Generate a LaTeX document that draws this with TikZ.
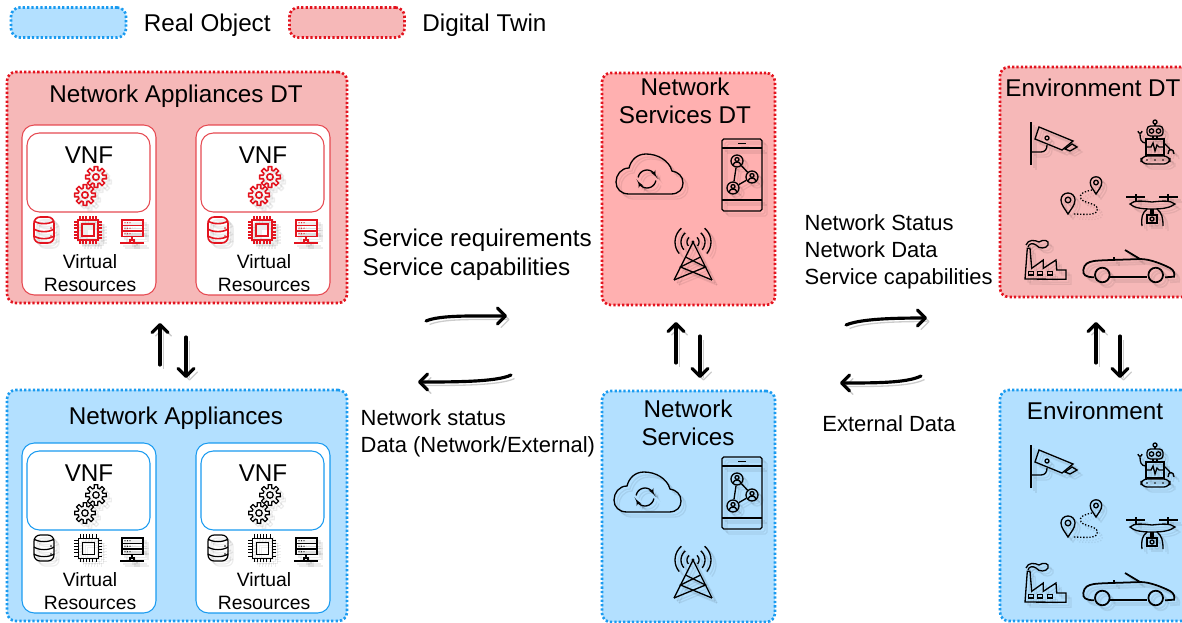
\documentclass[tikz,border=0pt]{standalone}
\usepackage{fontspec}
\setmainfont{Liberation Sans}
\usepackage{xcolor}
\usepackage{tikz}
\usetikzlibrary{arrows.meta,positioning,calc}

\definecolor{dtred}{HTML}{E3141F}
\definecolor{dtline}{HTML}{E64A52}
\definecolor{dtfill}{HTML}{F6B8B8}
\definecolor{dtfillb}{HTML}{FFB0B0}
\definecolor{realblue}{HTML}{1A9BF0}
\definecolor{realfill}{HTML}{B3E0FF}

\tikzset{
	dtbox/.style = {draw=dtred,fill=dtfill,line width=1.5pt,dash pattern=on 1.3pt off 1.2pt,rounded corners=5pt},
	realbox/.style = {draw=realblue,fill=realfill,line width=1.5pt,dash pattern=on 1.3pt off 1.2pt,rounded corners=5pt},
	modbox/.style = {fill=white,line width=.6pt,rounded corners=7pt},
	bigtext/.style = {font=\fontsize{13.8}{16}\selectfont,align=center,inner sep=0pt},
	midtext/.style = {font=\fontsize{12.5}{15.2}\selectfont,align=left,inner sep=0pt},
	smalltext/.style = {font=\fontsize{11}{13.1}\selectfont,align=center,inner sep=0pt},
	flowarrow/.style = {line width=1.8pt,line cap=round,-{Straight Barb[round,length=4.5pt,width=9pt]},
		preaction={draw,black,opacity=.2,transform canvas={shift={(2pt,-2pt)}}}},
	pics/gearwheel/.style = {code={
		\draw[line join=round] (-14:7) \foreach \a in {0,45,...,315} {-- (\a-14:7) -- (\a-10:10.5) -- (\a+10:10.5) -- (\a+14:7)} -- cycle;
		\draw (0,0) circle (3.2);
	}},
	pics/gears/.style = {code={
		\pic at (6,-9) {gearwheel};
		\pic at (-5,9) {gearwheel};
	}},
	pics/dbicon/.style = {code={
		\draw[rounded corners=3.5] (-10,-13) rectangle (10,13);
		\draw (-10,-9) .. controls (-5,-5.5) and (5,-5.5) .. (10,-9);
		\draw (-10,-1) .. controls (-5,2.5) and (5,2.5) .. (10,-1);
		\draw (-10,6) .. controls (-5,9.5) and (5,9.5) .. (10,6);
		\foreach \y in {-2,6} {\fill (7,\y) circle (.8);}
	}},
	pics/chipicon/.style = {code={
		\draw (-10,-10) rectangle (10,10);
		\draw (-6,-6) rectangle (6,6);
		\foreach \t in {-8,-4.8,-1.6,1.6,4.8,8} {
			\draw (\t,-14) -- (\t,-10);
			\draw (\t,10) -- (\t,14);
			\draw (-14,\t) -- (-10,\t);
			\draw (10,\t) -- (14,\t);
		}
	}},
	pics/rackicon/.style = {code={
		\foreach \y in {-10,-4.5,1} {
			\draw (-10,\y) rectangle (11,\y+5.5);
			\foreach \d in {-7,-4.5,-2} {\fill (\d,\y+2.7) circle (.7);}
		}
		\draw (0,6.5) -- (0,10);
		\draw (-2,10) rectangle (2,13);
		\draw (-12,13) -- (12,13);
	}},
	pics/cloudicon/.style = {code={
		\draw (-20,20) -- (22,20) .. controls (30,20) and (34,15) .. (34,9) .. controls (34,2) and (29,-2) .. (23,-3)
			.. controls (20,-14) and (8,-20) .. (-3,-20) .. controls (-12,-20) and (-18,-14) .. (-20,-6)
			.. controls (-28,-6) and (-33,1) .. (-33,8) .. controls (-33,15) and (-28,20) .. (-20,20) -- cycle;
		\draw[-{Stealth[length=3pt,width=3pt]}] plot[domain=190:340,samples=12] ({-2+9*cos(\x)},{5+9*sin(\x)});
		\draw[-{Stealth[length=3pt,width=3pt]}] plot[domain=10:160,samples=12] ({-2+9*cos(\x)},{5+9*sin(\x)});
	}},
	personnode/.style = {circle,draw,inner sep=0pt,minimum size=.24cm},
	pics/phoneicon/.style = {code={
		\draw[rounded corners=1] (-20,-36) rectangle (20,36);
		\draw (-20,-27) -- (20,-27);
		\draw (-20,25) -- (20,25);
		\draw (-4,-31.5) -- (4,-31.5);
		\node[personnode] (persona) at (-5,-14) {};
		\node[personnode] (personb) at (10,2) {};
		\node[personnode] (personc) at (-9,13) {};
		\draw (persona) -- (personb);
		\draw (personb) -- (personc);
		\draw (personc) -- (persona);
		\foreach \px/\py in {-5/-14,10/2,-9/13} {
			\draw (\px,\py-1.5) circle (2);
			\draw (\px-4,\py+4) .. controls (\px-3,\py) and (\px+3,\py) .. (\px+4,\py+4);
		}
	}},
	pics/towericon/.style = {code={
		\fill (0,0) circle (1.6);
		\draw (-19,38) -- (0,0) -- (19,38);
		\draw (-7.5,15) -- (12.5,25) -- (-19,38);
		\draw (7.5,15) -- (-12.5,25) -- (19,38);
		\foreach \r in {6,12,18} {
			\draw plot[domain=-50:40,samples=10] ({\r*cos(\x)},{\r*sin(\x)});
			\draw plot[domain=140:230,samples=10] ({\r*cos(\x)},{\r*sin(\x)});
		}
	}},
	pics/cameraicon/.style = {code={
		\draw (-24,-18) -- (-24,25);
		\draw (-16,-13) -- (18,1) -- (7,10) -- (-20,-1) -- cycle;
		\draw (10,9) -- (17,4) -- (22,7) -- (15,11) -- cycle;
		\draw (-8,-2) circle (2);
		\draw (-24,12) -- (-14,12) .. controls (-10,12) and (-8,9) .. (-8,5);
	}},
	pics/roboticon/.style = {code={
		\draw[rounded corners=2] (-8,-16) rectangle (8,-6);
		\draw (0,-20) circle (2);
		\draw (0,-18) -- (0,-16);
		\draw (-3.5,-11) circle (2.2);
		\draw (3.5,-11) circle (2.2);
		\draw (-2,-6) -- (-2,-3);
		\draw (2,-6) -- (2,-3);
		\draw (-9,-3) rectangle (9,13);
		\draw (-9,5) -- (-4,5) -- (-2,1) -- (0,9) -- (2,3) -- (4,5) -- (9,5);
		\draw[rounded corners=3.5] (-14,14) rectangle (15,22);
		\foreach \d in {-8,0,8} {\fill (\d,18) circle (.8);}
		\draw (-9,1) .. controls (-14,1) and (-15,-3) .. (-15,-8);
		\draw (-17,-11) .. controls (-17,-8) and (-13,-8) .. (-13,-11);
		\draw (9,1) -- (14,6) -- (15,8);
		\draw (13,12) .. controls (13,6) and (19,6) .. (19,12);
	}},
	pics/pinicon/.style = {code={
		\draw (0,0) .. controls (-3,-5) and (-7,-9) .. (-7,-14) .. controls (-7,-18) and (-4,-21) .. (0,-21)
			.. controls (4,-21) and (7,-18) .. (7,-14) .. controls (7,-9) and (3,-5) .. (0,0) -- cycle;
		\draw (0,-14) circle (2.8);
	}},
	pics/routeicon/.style = {code={
		\pic[scale=.82] at (14,-4) {pinicon};
		\pic at (-14,16) {pinicon};
		\draw[densely dotted] (10,-8) .. controls (3,-7) and (-4,-4) .. (-1,1) .. controls (3,6) and (18,5) .. (15,13) .. controls (13,18) and (0,16) .. (-9,16);
	}},
	pics/droneicon/.style = {code={
		\draw (-26,-7) -- (-7,-7);
		\draw (7,-7) -- (26,-7);
		\draw (-16,-10) -- (-16,-3);
		\draw (16,-10) -- (16,-3);
		\draw (-22,0) .. controls (-18,-4) and (-10,-3) .. (0,-2) .. controls (10,-3) and (18,-4) .. (23,0) .. controls (18,4) and (10,5) .. (0,5) .. controls (-10,5) and (-18,4) .. (-22,0) -- cycle;
		\draw (-5,11) rectangle (5,19);
		\draw (0,15) circle (2);
		\draw (-5,5) .. controls (-10,9) and (-11,14) .. (-10,22);
		\draw (5,5) .. controls (10,9) and (11,14) .. (11,22);
		\draw (-1,5) -- (-1,11);
		\draw (1,5) -- (1,11);
	}},
	pics/factoryicon/.style = {code={
		\draw (-20,17) -- (-17.7,-13.7) -- (-15,-13.7) -- (-13.3,6.3) -- (-1.7,-2) -- (-1.7,6.3) -- (11,-2) -- (11.7,8) -- (21,8) -- (21,17.3) -- cycle;
		\foreach \w in {-14,-5,5} {\draw (\w-2.5,9.5) rectangle (\w+2.5,13);}
		\draw (-19,-17) .. controls (-17,-23) and (-10,-22) .. (-6,-20) .. controls (-2,-23) and (5,-22) .. (3,-17) .. controls (1,-13) and (-6,-13) .. (-9,-17) .. controls (-12,-19) and (-16,-19) .. (-17,-15);
	}},
	pics/caricon/.style = {code={
		\draw[line width=1pt] (-20,15.3) -- (16.7,15.3);
		\draw[line width=1pt] (-36,15.3) .. controls (-45,15) and (-47,13) .. (-46.7,8) .. controls (-46,2) and (-42,0) .. (-36,-1) .. controls (-28,-2) and (-14,-2) .. (10,-3) .. controls (20,-3) and (32,2) .. (40,6) .. controls (44,8) and (45,12) .. (44,14.7) -- (35,15.3);
		\draw[line width=1pt] (-27.7,13) circle (7.3);
		\draw[line width=1pt] (25.7,13) circle (7.3);
		\draw[line width=1pt] (-5,-12) -- (10,-3);
		\draw (-16,-5) -- (-16,-1);
	}}
}

\newcommand{\dropicon}[4]{
	\pic[color=black,opacity=.07] at ($(#2,#3)+(3,3)$) {#4};
	\pic[color=black,opacity=.07] at ($(#2,#3)+(5,5)$) {#4};
	\pic[color=#1] at (#2,#3) {#4};
}

\begin{document}
\begin{tikzpicture}[
			x = 0.02cm,
			y = -0.02cm,
			line width = .75pt
			]

			\useasboundingbox (0,0) rectangle (1182,622);
			\clip (0,0) rectangle (1182,622);

			\node[realbox,minimum width=2.3cm,minimum height=.6cm] (legendreal) at (68.5,22.5) {};
			\node[dtbox,minimum width=2.3cm,minimum height=.6cm] (legenddt) at (347,22.5) {};
			\node[bigtext,right=.32cm of legendreal,yshift=-.05cm] (legendrealtext) {Real Object};
			\node[bigtext,right=.32cm of legenddt,yshift=-.05cm] (legenddttext) {Digital Twin};

			\node[dtbox,minimum width=6.8cm,minimum height=4.62cm] (appliancesdt) at (177,187.5) {};
			\node[realbox,minimum width=6.8cm,minimum height=4.62cm] (appliances) at (177,505.5) {};
			\node[bigtext] (appliancesdttitle) at (176,96) {Network Appliances DT};
			\node[bigtext] (appliancestitle) at (176,418) {Network Appliances};

			\foreach \dy/\ic/\tag/\cw/\lc/\iw in {0/dtred/dt/1.1pt/dtline/.9pt,318/black/real/.4pt/realblue/.7pt} {
				\foreach \dx in {0,174} {
					\node[modbox,draw=\lc,minimum width=2.68cm,minimum height=3.4cm] (module\tag\dx) at (89+\dx,210+\dy) {};
					\node[modbox,draw=\lc,minimum width=2.46cm,minimum height=1.58cm] (vnfbox\tag\dx) at (88.5+\dx,172.5+\dy) {};
					\node[bigtext] (vnf\tag\dx) at (89+\dx,155+\dy) {VNF};
					\begin{scope}[line width=\iw]
						\dropicon{\ic}{90+\dx}{186+\dy}{gears}
						\dropicon{\ic}{44+\dx}{230+\dy}{dbicon}
						\dropicon{\ic}{132+\dx}{230+\dy}{rackicon}
					\end{scope}
					\begin{scope}[line width=\cw]
						\dropicon{\ic}{88+\dx}{230+\dy}{chipicon}
					\end{scope}
					\node[smalltext] (res\tag\dx) at (90+\dx,273+\dy) {Virtual\\Resources};
				}
			}

			\node[dtbox,fill=dtfillb,minimum width=3.46cm,minimum height=4.64cm] (servicesdt) at (688.5,189) {};
			\node[realbox,minimum width=3.46cm,minimum height=4.62cm] (services) at (688.5,506.5) {};
			\node[bigtext] (servicesdttitle) at (685,101) {Network\\Services DT};
			\node[bigtext] (servicestitle) at (688,423) {Network\\Services};

			\foreach \dy/\cx in {0/649,318/647} {
				\dropicon{black}{\cx}{174+\dy}{cloudicon}
				\dropicon{black}{742}{175+\dy}{phoneicon}
				\dropicon{black}{693}{242+\dy}{towericon}
			}

			\node[dtbox,minimum width=3.8cm,minimum height=4.6cm] (environmentdt) at (1095,182) {};
			\node[realbox,minimum width=3.8cm,minimum height=4.62cm] (environment) at (1095,505.5) {};
			\node[bigtext] (environmentdttitle) at (1093,88) {Environment DT};
			\node[bigtext] (environmenttitle) at (1095,411) {Environment};

			\foreach \dy in {0,323} {
				\dropicon{black}{1055}{140+\dy}{cameraicon}
				\dropicon{black}{1155}{142+\dy}{roboticon}
				\dropicon{black}{1082}{198+\dy}{routeicon}
				\dropicon{black}{1152}{204+\dy}{droneicon}
				\dropicon{black}{1045}{262+\dy}{factoryicon}
				\dropicon{black}{1130}{262+\dy}{caricon}
			}

			\node[bigtext,align=left,anchor=west,font=\fontsize{13.8}{16.5}\selectfont] (requirements) at (362,255) {Service requirements\\Service capabilities};
			\node[midtext,anchor=west] (statusdata) at (360,433) {Network status\\Data (Network/External)};
			\node[midtext,anchor=west] (statuslist) at (804,252) {Network Status\\Network Data\\Service capabilities};
			\node[midtext] (externaldata) at (889,424) {External Data};

			\coordinate (leftupa) at (160,365);
			\coordinate (leftupb) at (160,323);
			\coordinate (leftdowna) at (186,337);
			\coordinate (leftdownb) at (186,378);
			\coordinate (midupa) at (676,363);
			\coordinate (midupb) at (676,322);
			\coordinate (middowna) at (700,336);
			\coordinate (middownb) at (700,378);
			\coordinate (rightupa) at (1096,363);
			\coordinate (rightupb) at (1096,322);
			\coordinate (rightdowna) at (1120,336);
			\coordinate (rightdownb) at (1120,378);
			\coordinate (toservicea) at (426,321);
			\coordinate (toserviceb) at (507,316);
			\coordinate (fromservicea) at (511,375);
			\coordinate (fromserviceb) at (418,382);
			\coordinate (toenva) at (846,325);
			\coordinate (toenvb) at (927,318);
			\coordinate (fromenva) at (921,376);
			\coordinate (fromenvb) at (840,383);

			\draw[flowarrow] (leftupa) -- (leftupb);
			\draw[flowarrow] (leftdowna) -- (leftdownb);
			\draw[flowarrow] (midupa) -- (midupb);
			\draw[flowarrow] (middowna) -- (middownb);
			\draw[flowarrow] (rightupa) -- (rightupb);
			\draw[flowarrow] (rightdowna) -- (rightdownb);

			\draw[flowarrow] (toservicea) .. controls +(14,-6) and +(-35,0) .. (toserviceb);
			\draw[flowarrow] (fromservicea) .. controls +(-14,7) and +(35,0) .. (fromserviceb);
			\draw[flowarrow] (toenva) .. controls +(14,-6) and +(-35,0) .. (toenvb);
			\draw[flowarrow] (fromenva) .. controls +(-14,7) and +(35,0) .. (fromenvb);

		\end{tikzpicture}
\end{document}
